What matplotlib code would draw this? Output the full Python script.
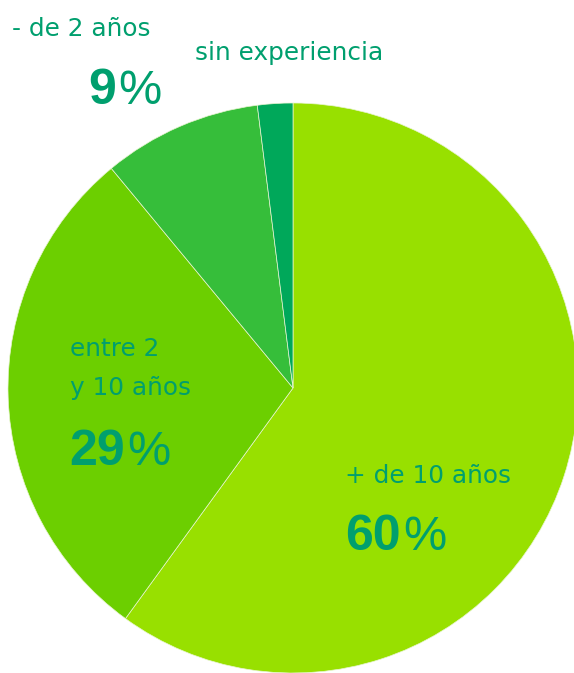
import matplotlib.pyplot as plt

# datos
categorias = ['+ de 10 años', 'entre 2\ny 10 años', '- de 2 años', 'sin experiencia']
valores = [60, 29, 9, 2]
etiquetas_pct = ['60', '29', '9', '']
colores = ['#98E000', '#6CCF00', '#36BE3A', '#00A85A']
color_texto = '#009F6E'

W, H = 574, 673

fig = plt.figure(figsize=(W / 100, H / 100), dpi=100)
ax = fig.add_axes([0, 0, 1, 1])
ax.set_xlim(0, W)
ax.set_ylim(0, H)
ax.set_aspect('equal')
ax.axis('off')

# pastel, empieza arriba y va en sentido horario
ax.pie(valores, colors=colores, startangle=90, counterclock=False,
       center=(293, H - 388), radius=285,
       wedgeprops=dict(edgecolor='#E8F5D0', linewidth=0.5))
ax.set_xlim(0, W)
ax.set_ylim(0, H)

# posiciones de los textos (pixeles desde arriba)
pos_cat = [(345, 483), (70, 356), (12, 36), (195, 60)]
pos_pct = [(345, 550), (69, 465), (88, 104), None]

renderer = fig.canvas.get_renderer()
for cat, (x, y) in zip(categorias, pos_cat):
    for i, linea in enumerate(cat.split('\n')):
        ax.text(x, H - (y + i * 39), linea, fontsize=17.8, color=color_texto,
                family='DejaVu Sans', ha='left', va='baseline')

for pct, pos in zip(etiquetas_pct, pos_pct):
    if pos is None:
        continue
    x, y = pos
    t = ax.text(x, H - y, pct, fontsize=36, fontweight='bold', color=color_texto,
                family='Liberation Sans', ha='left', va='baseline')
    bb = t.get_window_extent(renderer)
    ax.text(bb.x1 + 3, H - y, '%', fontsize=35, color=color_texto,
            family=['Liberation Sans Narrow', 'Liberation Sans'], ha='left', va='baseline')

fig.savefig('out.png', dpi=100)
